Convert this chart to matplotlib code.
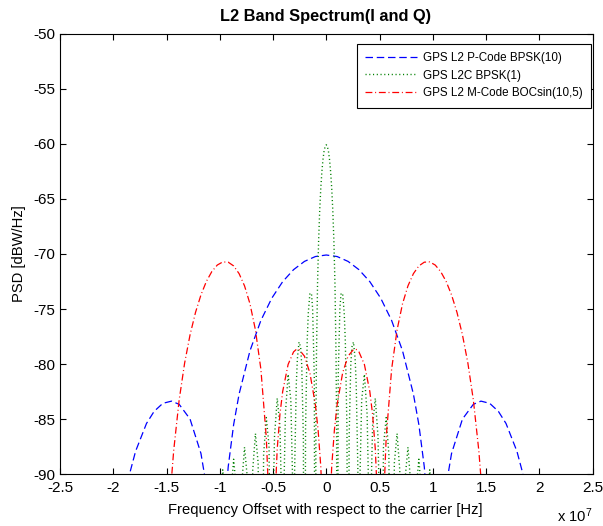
import numpy as np
import matplotlib
matplotlib.use("Agg")
import matplotlib.pyplot as plt
from matplotlib.ticker import FuncFormatter

plt.rcParams['font.family'] = ['Liberation Sans', 'DejaVu Sans']
plt.rcParams['axes.unicode_minus'] = False

# frequency offsets in MHz, PSD in dBW/Hz (values below -90 fall off the axis)
p_freq = [-20.46, -18.926, -18.414, -17.903, -16.880, -16.163, -15.345, -14.527, -13.811,
          -12.788, -11.765, -11.253, -10.23, -9.719, -9.207, -8.696, -8.184, -7.161,
          -6.138, -5.115, -4.092, -3.069, -2.046, -1.023, 0.0,
          1.023, 2.046, 3.069, 4.092, 5.115, 6.138, 7.161, 8.184, 8.696, 9.207, 9.719,
          10.23, 11.253, 11.765, 12.788, 13.811, 14.527, 15.345, 16.163, 16.880, 17.903,
          18.414, 18.926, 20.46]
p_psd = [-120, -92.24, -89.77, -87.91, -85.39, -84.29, -83.56, -83.36, -83.65,
         -84.99, -88.11, -91.07, -120, -95.7, -89.33, -85.49, -82.72, -78.79,
         -76.04, -74.02, -72.52, -71.43, -70.68, -70.24, -70.10,
         -70.24, -70.68, -71.43, -72.52, -74.02, -76.04, -78.79, -82.72, -85.49, -89.33, -95.7,
         -120, -91.07, -88.11, -84.99, -83.65, -83.36, -83.56, -84.29, -85.39, -87.91,
         -89.77, -92.24, -120]

l2c_freq = [-10.23, -9.974, -9.719, -9.463, -9.207, -8.951, -8.696, -8.440, -8.184,
            -7.928, -7.673, -7.417, -7.161, -6.905, -6.650, -6.394, -6.138,
            -5.882, -5.627, -5.371, -5.115, -5.013, -4.859, -4.604, -4.348, -4.194, -4.092,
            -3.990, -3.836, -3.581, -3.325, -3.171, -3.069,
            -2.967, -2.813, -2.711, -2.558, -2.404, -2.302, -2.148, -2.046,
            -1.944, -1.790, -1.688, -1.535, -1.381, -1.279, -1.125, -1.023,
            -0.972, -0.921, -0.818, -0.716, -0.614, -0.512, -0.409, -0.307, -0.205, -0.102, 0.0,
            0.102, 0.205, 0.307, 0.409, 0.512, 0.614, 0.716, 0.818, 0.921, 0.972,
            1.023, 1.125, 1.279, 1.381, 1.535, 1.688, 1.790, 1.944,
            2.046, 2.148, 2.302, 2.404, 2.558, 2.711, 2.813, 2.967,
            3.069, 3.171, 3.325, 3.581, 3.836, 3.990,
            4.092, 4.194, 4.348, 4.604, 4.859, 5.013, 5.115, 5.371, 5.627, 5.882,
            6.138, 6.394, 6.650, 6.905, 7.161, 7.417, 7.673, 7.928,
            8.184, 8.440, 8.696, 8.951, 9.207, 9.463, 9.719, 9.974, 10.23]
l2c_psd = [-120, -92.83, -89.59, -92.37, -120, -91.89, -88.63, -91.38, -120,
           -90.84, -87.54, -90.26, -120, -89.64, -86.30, -88.97, -120,
           -88.24, -84.85, -87.45, -120, -94.04, -86.58, -83.10, -85.62, -92.50, -120,
           -92.06, -84.53, -80.92, -83.29, -90.07, -120,
           -89.49, -81.84, -79.51, -78.00, -78.46, -80.09, -86.68, -120,
           -85.82, -77.91, -75.39, -73.56, -73.65, -74.99, -81.07, -120,
           -85.70, -79.33, -72.72, -68.79, -66.04, -64.02, -62.52, -61.43, -60.68, -60.24, -60.10,
           -60.24, -60.68, -61.43, -62.52, -64.02, -66.04, -68.79, -72.72, -79.33, -85.70,
           -120, -81.07, -74.99, -73.65, -73.56, -75.39, -77.91, -85.82,
           -120, -86.68, -80.09, -78.46, -78.00, -79.51, -81.84, -89.49,
           -120, -90.07, -83.29, -80.92, -84.53, -92.06,
           -120, -92.50, -85.62, -83.10, -86.58, -94.04, -120, -87.45, -84.85, -88.24,
           -120, -88.97, -86.30, -89.64, -120, -90.26, -87.54, -90.84,
           -120, -91.38, -88.63, -91.89, -120, -92.37, -89.59, -92.83, -120]

m_freq = [-15.345, -14.834, -14.578, -14.322, -13.811, -13.299, -12.788, -12.276, -11.765,
          -11.253, -10.742, -10.230, -9.719, -9.207, -8.696, -8.184, -7.673, -7.161,
          -6.650, -6.138, -5.627, -5.371, -5.115, -4.859, -4.604, -4.348, -4.092,
          -3.581, -3.069, -2.813, -2.558, -2.046, -1.535, -1.023, -0.767, -0.512, -0.256, 0.0,
          0.256, 0.512, 0.767, 1.023, 1.535, 2.046, 2.558, 2.813, 3.069, 3.581,
          4.092, 4.348, 4.604, 4.859, 5.115, 5.371, 5.627, 6.138, 6.650, 7.161,
          7.673, 8.184, 8.696, 9.207, 9.719, 10.230, 10.742, 11.253, 11.765, 12.276,
          12.788, 13.299, 13.811, 14.322, 14.578, 14.834, 15.345]
m_psd = [-120, -95.11, -90.95, -87.82, -83.25, -79.91, -77.34, -75.31, -73.72,
         -72.49, -71.60, -71.01, -70.73, -70.75, -71.09, -71.79, -72.90, -74.53,
         -76.90, -80.46, -86.69, -92.89, -120, -93.39, -87.69, -84.55, -82.49,
         -80.03, -78.89, -78.67, -78.67, -79.28, -80.81, -83.67, -85.95, -89.31, -95.2, -120,
         -95.2, -89.31, -85.95, -83.67, -80.81, -79.28, -78.67, -78.67, -78.89, -80.03,
         -82.49, -84.55, -87.69, -93.39, -120, -92.89, -86.69, -80.46, -76.90, -74.53,
         -72.90, -71.79, -71.09, -70.75, -70.73, -71.01, -71.60, -72.49, -73.72, -75.31,
         -77.34, -79.91, -83.25, -87.82, -90.95, -95.11, -120]

labels = ['GPS L2 P-Code BPSK(10)', 'GPS L2C BPSK(1)', 'GPS L2 M-Code BOCsin(10,5)']

# plot
fig = plt.figure(figsize=(6.03, 5.26), dpi=100)
ax = fig.add_axes([60/603, 1-474.3/526, 532.5/603, 440.8/526])

to_1e7 = lambda f: np.array(f) / 10.0   # MHz -> units of 1e7 Hz
ax.plot(to_1e7(p_freq), p_psd, color='#0000ff', lw=0.9, dashes=(6, 3), label=labels[0])
ax.plot(to_1e7(l2c_freq), l2c_psd, color='#008000', lw=1.0, dashes=(0.8, 1.9), label=labels[1])
ax.plot(to_1e7(m_freq), m_psd, color='#ff0000', lw=0.9, dashes=(5.5, 2.2, 0.8, 2.2), label=labels[2])

ax.set_xlim(-2.5, 2.5)
ax.set_ylim(-90, -50)
ax.set_xticks(np.arange(-2.5, 2.51, 0.5))
ax.set_yticks(np.arange(-90, -49, 5))
ax.xaxis.set_major_formatter(FuncFormatter(lambda v, p: '%g' % round(v, 2)))
ax.yaxis.set_major_formatter(FuncFormatter(lambda v, p: '%g' % v))
ax.tick_params(direction='in', length=4.3, width=0.8, top=True, right=True,
               labelsize=11, colors='black')
ax.tick_params(axis='x', pad=4.5)
ax.tick_params(axis='y', pad=3.4)
for s in ax.spines.values():
    s.set_linewidth(0.8)

fig.text(326/603, 1-21.5/526, 'L2 Band Spectrum(I and Q)', ha='center', va='baseline',
         fontsize=11.8, fontweight='bold')
fig.text(325/603, 1-514/526, 'Frequency Offset with respect to the carrier [Hz]',
         ha='center', va='baseline', fontsize=10.6)
fig.text(19/603, 1-254/526, 'PSD [dBW/Hz]', ha='center', va='center', rotation=90,
         fontsize=10.6)
fig.text(592/603, 1-522/526, r'x $\mathregular{10^7}$', ha='right', va='baseline',
         fontsize=10.6)

leg = ax.legend(loc='upper right', bbox_to_anchor=(590.5/603, 1-43.5/526),
                bbox_transform=fig.transFigure, borderaxespad=0, fontsize=8.4,
                handlelength=4.5, handletextpad=0.45, labelspacing=0.5, borderpad=0.7,
                fancybox=False, edgecolor='black', framealpha=1)
leg.get_frame().set_linewidth(0.8)

fig.savefig('out.png', dpi=100)
